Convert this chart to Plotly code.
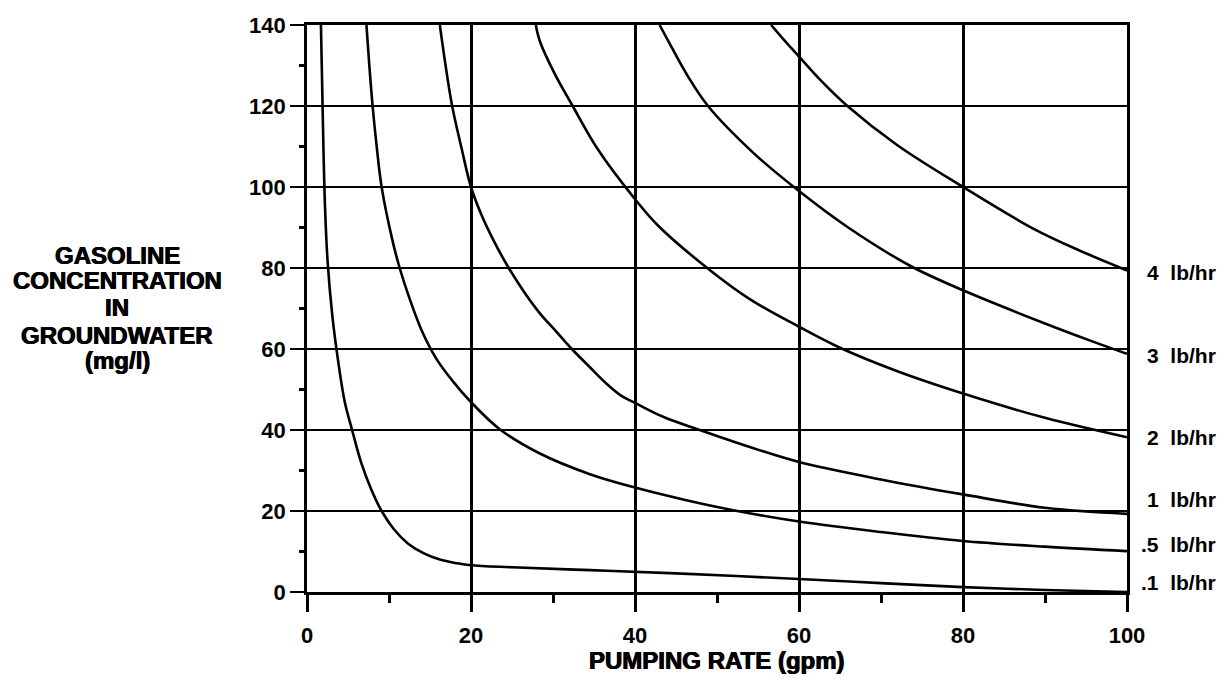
import plotly.graph_objects as go

# ---- data ----
labels = ["4\u00a0\u00a0lb/hr", "3\u00a0\u00a0lb/hr", "2\u00a0\u00a0lb/hr", "1\u00a0\u00a0lb/hr", ".5\u00a0\u00a0lb/hr", ".1\u00a0\u00a0lb/hr"]
label_y = [79, 58.5, 38.2, 22.8, 11.8, 2.4]

q_4 = [56.6, 58.3, 60, 62.8, 65.9, 72, 80, 88.5, 94, 100]
c_4 = [140, 136, 132.2, 126, 120, 110.3, 100, 89.8, 84.5, 79.4]

q_3 = [43.0, 44.2, 46.4, 48.9, 54.4, 60, 66, 73.6, 80, 90, 95.6, 100]
c_3 = [140, 135.5, 127.5, 120, 108.5, 99, 90, 80.5, 74.5, 66.3, 62.0, 58.8]

q_2 = [27.9, 28.4, 30.2, 32.4, 35.4, 40, 42.8, 48.8, 54, 60, 65, 72, 80, 90, 100]
c_2 = [140, 136, 128, 120, 109.5, 97, 90.5, 80, 72.3, 65.5, 60.3, 54.5, 49, 43.0, 38.2]

q_1 = [16.2, 16.9, 17.7, 18.8, 20, 21.3, 22.7, 24.6, 26.5, 28.4, 30.4, 32.3, 34.5, 36.6, 38.3,
       40, 43.5, 47.9, 54, 60, 70, 80, 90, 100]
c_1 = [140, 130, 120, 110, 100, 93, 87, 80, 74, 68.8, 64.3, 60, 55.5, 51.3, 48.5,
       46.7, 43.2, 40, 35.8, 32.1, 27.8, 24.1, 20.8, 19.3]

q_05 = [7.25, 7.6, 8.0, 8.5, 9.1, 10.4, 11.3, 12.5, 14.0, 15.8, 17.8, 19.9, 23.5, 28.4, 34.5,
        40, 46, 52, 60, 70, 80, 90, 100]
c_05 = [140, 130, 120, 110, 100, 87, 80, 72.5, 64.5, 57.5, 52, 47.1, 40.2, 34.2, 29.1,
        25.8, 22.8, 20.2, 17.4, 14.8, 12.6, 11.2, 10.1]

q_01 = [1.7, 1.8, 1.9, 2.0, 2.2, 2.5, 3.1, 3.8, 4.6, 5.5, 6.6, 7.8, 9.1, 10.6, 12.3, 14.2, 16.2,
        18.3, 20, 25, 34.5, 45, 60, 70, 80, 90, 100]
c_01 = [140, 130, 120, 110, 95, 82, 68, 57, 47, 40, 32, 25.5, 20, 15.5, 12, 9.6, 8.0,
        7.1, 6.6, 6.1, 5.4, 4.6, 3.2, 2.2, 1.2, 0.5, 0.0]

x_ticks = [0, 20, 40, 60, 80, 100]
y_ticks = [0, 20, 40, 60, 80, 100, 120, 140]
y_title_lines = ["GASOLINE", "CONCENTRATION", "IN", "GROUNDWATER", "(mg/l)"]
x_title = "PUMPING RATE (gpm)"

series = [(q_4, c_4), (q_3, c_3), (q_2, c_2), (q_1, c_1), (q_05, c_05), (q_01, c_01)]

FONT = "Liberation Sans, Arial, Helvetica, sans-serif"

fig = go.Figure()
for (q, c), name in zip(series, labels):
    fig.add_trace(go.Scatter(
        x=q, y=c, mode="lines", name=name,
        line=dict(color="black", width=2.6, shape="spline", smoothing=1.0),
        hoverinfo="x+y", showlegend=False,
    ))

# Right-hand curve labels
for name, yv in zip(labels, label_y):
    fig.add_annotation(
        x=1.111, xref="paper", y=yv, yref="y", text=name, showarrow=False,
        xanchor="right", yanchor="middle",
        font=dict(family=FONT, size=21, color="black", weight="bold"),
    )

# Y axis title (stacked lines)
title_ys = [0.594, 0.549, 0.502, 0.452, 0.408]
for line, yp in zip(y_title_lines, title_ys):
    fig.add_annotation(
        x=-0.2317, xref="paper", y=yp, yref="paper", text=line, showarrow=False,
        xanchor="center", yanchor="middle",
        font=dict(family=FONT, size=24, color="black", weight="bold",
                  shadow="0.5px 0 0 #000, -0.5px 0 0 #000"),
    )

fig.add_annotation(
    x=0.5, xref="paper", y=-0.121, yref="paper", text=x_title, showarrow=False,
    xanchor="center", yanchor="middle",
    font=dict(family=FONT, size=24, color="black", weight="bold",
              shadow="0.5px 0 0 #000, -0.5px 0 0 #000"),
)

fig.update_layout(
    width=1212, height=669,
    margin=dict(l=299, r=93, t=17, b=85, autoexpand=False),
    paper_bgcolor="white", plot_bgcolor="white",
    font=dict(family=FONT, color="black"),
)

fig.update_xaxes(
    range=[0, 100], tickvals=x_ticks, ticktext=[str(v) for v in x_ticks],
    showgrid=True, gridcolor="black", gridwidth=2.8,
    showline=True, linecolor="black", linewidth=2.8, mirror=True,
    zeroline=False,
    ticks="outside", ticklen=17, tickwidth=2.8, tickcolor="black",
    ticklabelstandoff=5,
    tickfont=dict(family=FONT, size=22, color="black", weight="bold"),
    minor=dict(tick0=10, dtick=20, ticks="outside", ticklen=8, tickwidth=2.5,
               tickcolor="black", showgrid=False),
)
fig.update_yaxes(
    range=[0, 140], tickvals=y_ticks, ticktext=[str(v) for v in y_ticks],
    showgrid=True, gridcolor="black", gridwidth=2,
    showline=True, linecolor="black", linewidth=2.8, mirror=True,
    zeroline=False,
    ticks="outside", ticklen=14, tickwidth=2, tickcolor="black",
    tickfont=dict(family=FONT, size=22, color="black", weight="bold"),
    minor=dict(tick0=10, dtick=20, ticks="outside", ticklen=5, tickwidth=2.5,
               tickcolor="black", showgrid=False),
)

fig.write_html("out.html")
